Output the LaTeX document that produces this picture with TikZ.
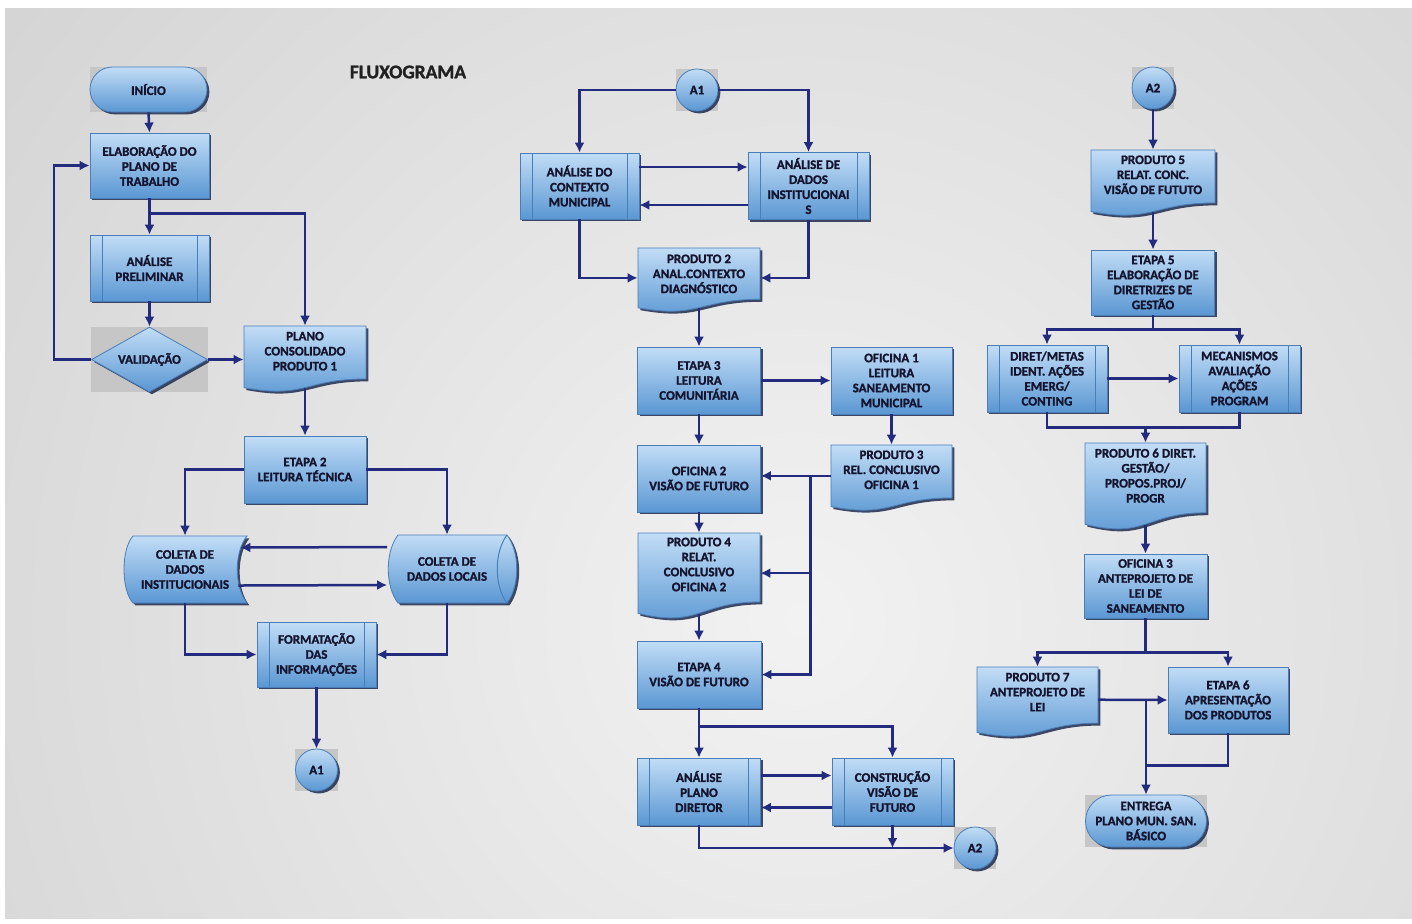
\documentclass[tikz,border=0pt]{standalone}
\usepackage{fontspec}
\setmainfont{Carlito}[BoldFeatures={FakeBold=1.3}]
\usetikzlibrary{arrows.meta,shapes.geometric,shapes.misc,shadows,calc}
\definecolor{boxtop}{HTML}{C2DDF6}
\definecolor{boxbot}{HTML}{5A97D3}
\definecolor{boxedge}{HTML}{4A7EB8}
\definecolor{shadowc}{HTML}{1E2B4E}
\definecolor{txt}{HTML}{14142E}
\definecolor{arrc}{HTML}{232B7E}
\definecolor{bgin}{HTML}{F2F2F2}
\definecolor{bgout}{HTML}{C9C9C9}
\definecolor{artc}{HTML}{C6C6C6}
\definecolor{titlec}{HTML}{202020}
\pgfdeclarelayer{bg}
\pgfdeclarelayer{shp}
\pgfsetlayers{bg,shp,main}
\newcommand\docshp[4]{%
  \begin{pgfonlayer}{shp}
  \fill[shadowc,opacity=.85] ({#1+2.4},{#3+2.4}) -- ({#2+2.4},{#3+2.4}) -- ({#2+2.4},{#3+2.4+0.802*#4})
    .. controls ({(#1+#2)/2+2.4},{#3+2.4+0.802*#4}) and ({(#1+#2)/2+2.4},{#3+2.4+1.1075*#4}) .. ({#1+2.4},{#3+2.4+0.934*#4}) -- cycle;
  \shade[docfill] (#1,#3) -- (#2,#3) -- (#2,{#3+0.802*#4})
    .. controls ({(#1+#2)/2},{#3+0.802*#4}) and ({(#1+#2)/2},{#3+1.1075*#4}) .. (#1,{#3+0.934*#4}) -- cycle;
  \end{pgfonlayer}}
\newcommand\artbox[1]{%
  \begin{pgfonlayer}{shp}
  \fill[artc] (#1.west |- #1.north) rectangle (#1.east |- #1.south);
  \end{pgfonlayer}}
\begin{document}
\begin{tikzpicture}[x=0.5pt,y=-0.5pt,
  basefont/.style={font=\bfseries\fontsize{6.5}{7.5}\selectfont, text=txt, align=center},
  boxsh/.style={basefont, top color=boxtop, bottom color=boxbot, draw=boxedge, line width=0.4pt,
    drop shadow={shadow xshift=1.2pt, shadow yshift=-1.2pt, fill=shadowc, opacity=0.85}, inner sep=0pt},
  procbox/.style={boxsh, rectangle},
  predef/.style={procbox, path picture={
    \draw[boxedge, line width=0.5pt]
      ([xshift=6pt]path picture bounding box.north west) -- ([xshift=6pt]path picture bounding box.south west)
      ([xshift=-6pt]path picture bounding box.north east) -- ([xshift=-6pt]path picture bounding box.south east);}},
  termbox/.style={boxsh, rounded rectangle},
  conn/.style={boxsh, circle, minimum size=21pt},
  decision/.style={boxsh, diamond, aspect=1.78},
  docnode/.style={rectangle, inner sep=0pt, draw=none},
  doclbl/.style={basefont, inner sep=0pt},
  docfill/.style={top color=boxtop, bottom color=boxbot, draw=boxedge, line width=0.4pt},
  arr/.style={draw=arrc, line width=1.25pt, -{Latex[length=5pt,width=5pt]}},
  ln/.style={draw=arrc, line width=1.25pt}
]
\useasboundingbox (0,0) rectangle (1412,923);
\begin{pgfonlayer}{bg}
  \fill[white] (0,0) rectangle (1412,923);
  \begin{scope}
    \clip (5,8) rectangle (1412,918);
    \fill[bgout] (5,8) rectangle (1412,918);
    \shade[inner color=bgin, outer color=bgout] (800,620) circle (1400);
  \end{scope}
\end{pgfonlayer}

\node[font=\bfseries\fontsize{9.7}{11}\selectfont, text=titlec] (title) at (408,72) {FLUXOGRAMA};

% ---------- left column ----------
\node[termbox, minimum width=58.5pt, minimum height=22.5pt] (ini) at (148.5,89.5) {INÍCIO};
\node[procbox, minimum width=59.5pt, minimum height=32.5pt] (elab) at (149.5,165.5) {ELABORAÇÃO DO\\PLANO DE\\TRABALHO};
\node[predef, minimum width=59.5pt, minimum height=33pt] (anal) at (149.5,268) {ANÁLISE\\PRELIMINAR};
\node[decision, minimum width=58pt, minimum height=32.5pt] (val) at (149.5,359.5) {VALIDAÇÃO};
\docshp{244}{366}{326}{66}
\node[docnode, minimum width=61pt, minimum height=30.8pt,
  label={[doclbl,yshift=2.8pt]center:{PLANO\\CONSOLIDADO\\PRODUTO 1}}] (plano) at (305,356.8) {};
\node[procbox, minimum width=61pt, minimum height=33.5pt] (et2) at (305,469.5) {ETAPA 2\\LEITURA TÉCNICA};
\begin{pgfonlayer}{shp}
  \fill[shadowc,opacity=.85] (135.4,538.4) -- (249.4,538.4) .. controls (236.4,554.4) and (236.4,589.4) .. (249.4,605.4) -- (135.4,605.4) .. controls (123.4,592.4) and (123.4,551.4) .. (135.4,538.4) -- cycle;
  \shade[docfill] (133,536) -- (247,536) .. controls (234,552) and (234,587) .. (247,603) -- (133,603) .. controls (121,590) and (121,549) .. (133,536) -- cycle;
  \fill[shadowc,opacity=.85] (400.4,537.4) -- (509.4,537.4) .. controls (522.4,554.4) and (522.4,588.4) .. (509.4,605.4) -- (400.4,605.4) .. controls (387.4,588.4) and (387.4,554.4) .. (400.4,537.4) -- cycle;
  \shade[docfill] (398,535) -- (507,535) .. controls (520,552) and (520,586) .. (507,603) -- (398,603) .. controls (385,586) and (385,552) .. (398,535) -- cycle;
  \draw[boxedge, line width=0.5pt] (507,535) .. controls (494,552) and (494,586) .. (507,603);
\end{pgfonlayer}
\node[docnode, basefont, minimum width=61pt, minimum height=33.5pt] (cinst) at (185,569.5) {COLETA DE\\DADOS\\INSTITUCIONAIS};
\node[docnode, basefont, minimum width=59.5pt, minimum height=34pt] (cloc) at (447,569) {COLETA DE\\DADOS LOCAIS};
\node[predef, minimum width=59.5pt, minimum height=32.5pt] (form) at (316.5,654.5) {FORMATAÇÃO\\DAS\\INFORMAÇÕES};
\node[conn] (a1L) at (316.5,770) {A1};

% ---------- middle column ----------
\node[conn] (a1M) at (697,90) {A1};
\node[predef, minimum width=59.5pt, minimum height=33pt] (actx) at (579.5,186) {ANÁLISE DO\\CONTEXTO\\MUNICIPAL};
\node[predef, minimum width=60.5pt, minimum height=33.5pt] (adad) at (808.5,186) {ANÁLISE DE\\DADOS\\INSTITUCIONAI\\S};
\docshp{638}{760}{248}{64}
\node[docnode, minimum width=61pt, minimum height=29.85pt,
  label={[doclbl,yshift=2pt]center:{PRODUTO 2\\ANAL.CONTEXTO\\DIAGNÓSTICO}}] (p2) at (699,277.9) {};
\node[procbox, minimum width=61.5pt, minimum height=33.5pt] (et3) at (699,380.5) {ETAPA 3\\LEITURA\\COMUNITÁRIA};
\node[procbox, minimum width=60.5pt, minimum height=33.5pt] (of1) at (891.5,380.5) {OFICINA 1\\LEITURA\\SANEAMENTO\\MUNICIPAL};
\node[procbox, minimum width=61.5pt, minimum height=33.5pt] (of2) at (699,478.5) {OFICINA 2\\VISÃO DE FUTURO};
\docshp{831}{952}{445}{66}
\node[docnode, minimum width=60.5pt, minimum height=30.8pt,
  label={[doclbl,yshift=3pt]center:{PRODUTO 3\\REL. CONCLUSIVO\\OFICINA 1}}] (p3) at (891.5,475.8) {};
\docshp{638}{760}{533}{86}
\node[docnode, minimum width=61pt, minimum height=40.1pt,
  label={[doclbl,yshift=4.3pt]center:{PRODUTO 4\\RELAT.\\CONCLUSIVO\\OFICINA 2}}] (p4) at (699,573.1) {};
\node[procbox, minimum width=62pt, minimum height=33.5pt] (et4) at (699,674.5) {ETAPA 4\\VISÃO DE FUTURO};
\node[predef, minimum width=61.5pt, minimum height=33.5pt] (apd) at (699,791.5) {ANÁLISE\\PLANO\\DIRETOR};
\node[predef, minimum width=60.5pt, minimum height=33.5pt] (cvf) at (892.5,791.5) {CONSTRUÇÃO\\VISÃO DE\\FUTURO};
\node[conn] (a2M) at (975,848) {A2};

% ---------- right column ----------
\node[conn] (a2R) at (1153,88) {A2};
\docshp{1091}{1215}{150}{66}
\node[docnode, minimum width=62pt, minimum height=30.8pt,
  label={[doclbl,yshift=3pt]center:{PRODUTO 5\\RELAT. CONC.\\VISÃO DE FUTUTO}}] (p5) at (1153,180.8) {};
\node[procbox, minimum width=61.5pt, minimum height=32.5pt] (et5) at (1153,282.5) {ETAPA 5\\ELABORAÇÃO DE\\DIRETRIZES DE\\GESTÃO};
\node[predef, minimum width=60pt, minimum height=33.5pt] (dir) at (1047,378.5) {DIRET/METAS\\IDENT. AÇÕES\\EMERG/\\CONTING};
\node[predef, minimum width=60.5pt, minimum height=33.5pt] (mec) at (1239.5,378.5) {MECANISMOS\\AVALIAÇÃO\\AÇÕES\\PROGRAM};
\docshp{1085}{1206}{443}{87}
\node[docnode, minimum width=60.5pt, minimum height=40.6pt,
  label={[doclbl,yshift=4pt]center:{PRODUTO 6 DIRET.\\GESTÃO/\\PROPOS.PROJ/\\PROGR}}] (p6) at (1145.5,483.6) {};
\node[procbox, minimum width=61.5pt, minimum height=32pt] (of3) at (1145.5,586) {OFICINA 3\\ANTEPROJETO DE\\LEI DE\\SANEAMENTO};
\docshp{977}{1098}{667}{70}
\node[docnode, minimum width=60.5pt, minimum height=32.65pt,
  label={[doclbl,yshift=3.8pt]center:{PRODUTO 7\\ANTEPROJETO DE\\LEI}}] (p7) at (1037.5,699.7) {};
\node[procbox, minimum width=60pt, minimum height=33pt] (et6) at (1228,700) {ETAPA 6\\APRESENTAÇÃO\\DOS PRODUTOS};
\node[termbox, minimum width=60.5pt, minimum height=26pt] (ent) at (1146,821) {ENTREGA\\PLANO MUN. SAN.\\BÁSICO};

% artefact boxes behind some shapes
\artbox{ini}\artbox{val}\artbox{a1L}\artbox{a1M}\artbox{a2M}\artbox{a2R}\artbox{ent}

% ---------- connectors: left ----------
\draw[arr] (ini.south) -- (elab.north);
\draw[arr] (elab.south) -- (anal.north);
\draw[arr] (elab.south) -- ++(0,15) -| (plano.north);
\draw[arr] (anal.south) -- (val.north);
\draw[arr] (val.west) -- ++(-37,0) |- (elab.west);
\draw[arr] (val.east) -- (val.east -| plano.west);
\draw[arr] (plano.south) -- (et2.north);
\draw[arr] (et2.west) -| (cinst.north);
\draw[arr] (et2.east) -| (cloc.north);
\draw[arr] ([yshift=11pt]cloc.west) -- ([xshift=-3pt,yshift=11pt]cinst.east);
\draw[arr] ([xshift=-4pt,yshift=-8pt]cinst.east) -- ([yshift=-8pt]cloc.west);
\draw[arr] (cinst.south) |- (form.west);
\draw[arr] (cloc.south) |- (form.east);
\draw[arr] (form.south) -- (a1L.north);

% ---------- connectors: middle ----------
\draw[arr] (a1M.west) -| (actx.north);
\draw[arr] (a1M.east) -| (adad.north);
\draw[arr] ([yshift=9.5pt]actx.east) -- ([yshift=9.5pt]adad.west);
\draw[arr] ([yshift=-9.5pt]adad.west) -- ([yshift=-9.5pt]actx.east);
\draw[arr] (actx.south) |- (p2.west);
\draw[arr] (adad.south) |- (p2.east);
\draw[arr] (p2.south) -- (et3.north);
\draw[arr] (et3.east) -- (of1.west);
\draw[arr] (et3.south) -- (of2.north);
\draw[arr] (of1.south) -- (p3.north);
\draw[arr] (p3.west) -- (p3.west -| of2.east);
\coordinate (j1) at ($(p3.west)+(-20,0)$);
\draw[arr] (j1) |- (et4.east);
\draw[arr] (j1 |- p4.east) -- (p4.east);
\draw[arr] (of2.south) -- (p4.north);
\draw[arr] (p4.south) -- (et4.north);
\draw[arr] (et4.south) -- (apd.north);
\draw[arr] (et4.south) -- ++(0,18) -| (cvf.north);
\draw[arr] ([yshift=8pt]apd.east) -- ([yshift=8pt]cvf.west);
\draw[arr] ([yshift=-8pt]cvf.west) -- ([yshift=-8pt]apd.east);
\draw[arr] (apd.south) |- (a2M.west);
\draw[arr] (cvf.south) -- (cvf.south |- a2M.west);

% ---------- connectors: right ----------
\draw[arr] (a2R.south) -- (p5.north);
\draw[arr] (p5.south) -- (et5.north);
\draw[arr] (et5.south) -- ++(0,14) -| (dir.north);
\draw[arr] (et5.south) -- ++(0,14) -| (mec.north);
\draw[arr] (dir.east) -- (mec.west);
\draw[ln] (dir.south) -- ++(0,15) coordinate (j2) -| (mec.south);
\draw[arr] (j2 -| p6.north) -- (p6.north);
\draw[arr] (p6.south) -- (of3.north);
\draw[arr] (of3.south) -- ++(0,34) -| (p7.north);
\draw[arr] (of3.south) -- ++(0,34) -| (et6.north);
\draw[arr] (p7.east) -- (et6.west);
\coordinate (j4) at (p7.east -| ent.north);
\draw[ln] (et6.south) -- ++(0,32) -| (j4);
\draw[arr] (j4) -- (ent.north);
\end{tikzpicture}
\end{document}
